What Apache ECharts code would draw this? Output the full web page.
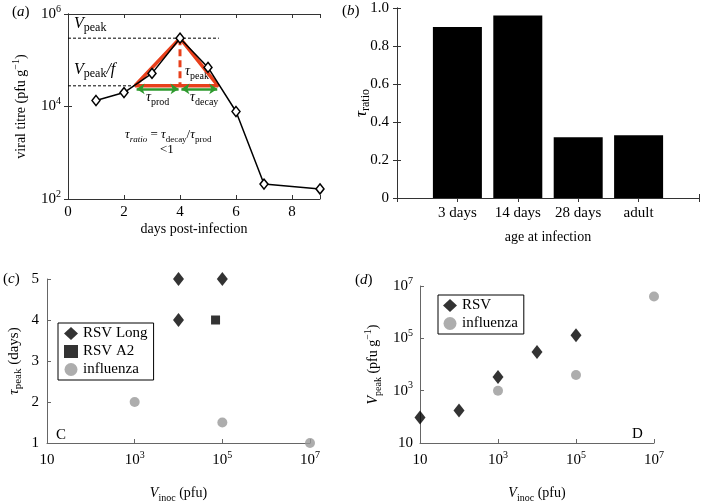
<!DOCTYPE html>
<html>
<head>
<meta charset="utf-8">
<script src="https://cdn.jsdelivr.net/npm/echarts@6/dist/echarts.min.js"></script>
<style>
html, body { margin: 0; padding: 0; background: #fff; }
#chart { width: 702px; height: 504px; }
</style>
</head>
<body>
<div id="chart"></div>
<script>
// (a) viral titre time course
const days = [1, 2, 3, 4, 5, 6, 7, 9];
const titre = [1.35e4, 2.0e4, 5.2e4, 3.0e5, 7.0e4, 7.8e3, 210, 165];
// peak construction drawn on (a)
const vPeak = 3.0e5;
const vPeakF = 2.8e4;
const triDays = [2.39, 4, 5.36];
const guideEnd = 5.39;
const arrowLevel = 2.4e4;
const arrowProd = [2.45, 3.95];
const arrowDecay = [4.05, 5.33];

// (b) tau ratio by age
const ages = ['3 days', '14 days', '28 days', 'adult'];
const tauRatio = [0.90, 0.96, 0.32, 0.33];

// (c) time to peak vs inoculum
const rsvLongInoc = [1e4, 1e5, 1e4];
const rsvLongPeak = [5, 5, 4];
const rsvA2Inoc = [7e4];
const rsvA2Peak = [4];
const fluInocC = [1e3, 1e5, 1e7];
const fluPeakC = [2, 1.5, 1];

// (d) peak titre vs inoculum
const rsvInoc = [10, 100, 1e3, 1e4, 1e5];
const rsvVPeak = [95, 175, 3300, 3e4, 1.3e5];
const fluInocD = [1e3, 1e5, 1e7];
const fluVPeak = [1000, 4000, 4e6];

const logTicksA = [1e2, 1e4, 1e6];
const logTicksInoc = [10, 1e3, 1e5, 1e7];

const F = '"Liberation Serif", serif';
const GREY = '#999999';

function R(size) {
    return {
        n: { fontFamily: F, fontSize: size, lineHeight: 20, color: '#000' },
        i: { fontFamily: F, fontSize: size, fontStyle: 'italic', lineHeight: 20, color: '#000' },
        sup: { fontFamily: F, fontSize: Math.round(size * 0.68), lineHeight: 10, verticalAlign: 'top', color: '#000' },
        sub: { fontFamily: F, fontSize: Math.round(size * 0.72), lineHeight: 10, verticalAlign: 'bottom', color: '#000' },
        subi: { fontFamily: F, fontSize: Math.round(size * 0.72), fontStyle: 'italic', lineHeight: 10, verticalAlign: 'bottom', color: '#000' }
    };
}

function pow10(v) {
    const e = Math.round(Math.log10(v));
    return e === 1 ? '{n|10}' : '{n|10}{sup|' + e + '}';
}

const zip = (xs, ys) => xs.map((x, i) => [x, ys[i]]);

function boxAxis(extra, color) {
    return Object.assign({
        splitLine: { show: false },
        axisLine: { show: true, lineStyle: { color: color, width: 1 } },
        axisTick: { show: true, inside: true, length: 4, lineStyle: { color: color } },
        axisLabel: { color: '#000', fontFamily: F, fontSize: 15, margin: 6 },
        nameTextStyle: { color: '#000', fontFamily: F, fontSize: 14 }
    }, extra);
}

function logAxis(extra, color, ticks) {
    return boxAxis(Object.assign({
        type: 'log', logBase: 10,
        axisTick: { show: true, inside: true, length: 4, lineStyle: { color: color }, customValues: ticks },
        axisLabel: { color: '#000', margin: 7, customValues: ticks, formatter: pow10, rich: R(15) }
    }, extra), color);
}

const chart = echarts.init(document.getElementById('chart'));

chart.setOption({
    animation: false,
    textStyle: { fontFamily: F },
    grid: [
        { left: 68, top: 14, width: 252, height: 185 },
        { left: 397, top: 8, width: 304, height: 190 },
        { left: 47, top: 279, width: 263, height: 173 },
        { left: 420, top: 286, width: 234, height: 167 }
    ],
    xAxis: [
        boxAxis({ gridIndex: 0, type: 'value', min: 0, max: 9, interval: 2,
            axisLabel: { color: '#000', fontFamily: F, fontSize: 15, margin: 6,
                formatter: v => (v % 2 === 0 ? String(v) : '') },
            name: 'days post-infection', nameLocation: 'middle', nameGap: 23 }, '#333'),
        boxAxis({ gridIndex: 0, type: 'value', position: 'top', min: 0, max: 9, interval: 2,
            axisLabel: { show: false } }, '#333'),
        boxAxis({ gridIndex: 1, type: 'value', min: 0, max: 5, interval: 1,
            axisLabel: { color: '#000', fontFamily: F, fontSize: 15, margin: 8,
                formatter: v => ages[v - 1] || '' },
            name: 'age at infection', nameLocation: 'middle', nameGap: 32 }, '#333'),
        boxAxis({ gridIndex: 1, type: 'value', position: 'top', min: 0, max: 5, interval: 1,
            axisLabel: { show: false } }, '#333'),
        logAxis({ gridIndex: 2, min: 10, max: 1e7,
            name: '{i|V}{sub|inoc}{n| (pfu)}', nameLocation: 'middle', nameGap: 40,
            nameTextStyle: { rich: R(14) } }, '#666', logTicksInoc),
        logAxis({ gridIndex: 3, min: 10, max: 1e7,
            name: '{i|V}{sub|inoc}{n| (pfu)}', nameLocation: 'middle', nameGap: 40,
            nameTextStyle: { rich: R(14) } }, '#666', logTicksInoc)
    ],
    yAxis: [
        logAxis({ gridIndex: 0, min: 1e2, max: 1e6,
            name: '{n|viral titre (pfu g}{sup|−1}{n|)}', nameLocation: 'middle', nameGap: 37,
            nameTextStyle: { rich: R(14) } }, '#333', logTicksA),
        logAxis({ gridIndex: 0, min: 1e2, max: 1e6, position: 'right',
            axisLabel: { show: false } }, '#333', logTicksA),
        boxAxis({ gridIndex: 1, type: 'value', min: 0, max: 1, interval: 0.2,
            axisLabel: { color: '#000', fontFamily: F, fontSize: 15, margin: 8,
                formatter: v => v === 0 ? '0' : v.toFixed(1) },
            name: '{i|τ}{sub|ratio}', nameLocation: 'middle', nameGap: 25, nameMoveOverlap: false,
            nameTextStyle: { rich: R(17) } }, '#333'),
        boxAxis({ gridIndex: 1, type: 'value', min: 0, max: 1, interval: 0.2, position: 'right',
            axisLabel: { show: false } }, '#333'),
        boxAxis({ gridIndex: 2, type: 'value', min: 1, max: 5, interval: 1,
            axisLabel: { color: '#000', fontFamily: F, fontSize: 15, margin: 8 },
            name: '{i|τ}{sub|peak}{n| (days)}', nameLocation: 'middle', nameGap: 23,
            nameTextStyle: { rich: R(15) } }, '#666'),
        logAxis({ gridIndex: 3, min: 10, max: 1e7,
            name: '{i|V}{sub|peak}{n| (pfu g}{sup|−1}{n|)}', nameLocation: 'middle', nameGap: 37,
            nameTextStyle: { rich: R(14) } }, '#666', logTicksInoc)
    ],
    legend: [
        { data: ['RSV Long', 'RSV A2', 'influenza'], orient: 'vertical', left: 58, top: 323,
            borderColor: '#000', borderWidth: 1, padding: [3, 6, 3, 6], itemGap: 3,
            itemWidth: 14, itemHeight: 13, textStyle: { fontFamily: F, fontSize: 15, color: '#000' },
            selectedMode: false },
        { data: ['RSV', 'influenza'], orient: 'vertical', left: 438, top: 295,
            borderColor: '#000', borderWidth: 1, padding: [3, 6, 3, 5], itemGap: 3,
            itemWidth: 14, itemHeight: 13, textStyle: { fontFamily: F, fontSize: 15, color: '#000' },
            selectedMode: false }
    ],
    series: [
        // (a) guides
        { type: 'line', xAxisIndex: 0, yAxisIndex: 0, symbol: 'none', silent: true,
            data: [[0, vPeak], [guideEnd, vPeak]], lineStyle: { color: '#000', width: 1, type: [3, 2] } },
        { type: 'line', xAxisIndex: 0, yAxisIndex: 0, symbol: 'none', silent: true,
            data: [[0, vPeakF], [guideEnd, vPeakF]], lineStyle: { color: '#000', width: 1, type: [3, 2] } },
        // (a) red triangle
        { type: 'line', xAxisIndex: 0, yAxisIndex: 0, symbol: 'none', silent: true, z: 3,
            data: [[triDays[0], vPeakF], [triDays[1], vPeak], [triDays[2], vPeakF], [triDays[0], vPeakF]],
            lineStyle: { color: '#e8401c', width: 3.5 } },
        { type: 'line', xAxisIndex: 0, yAxisIndex: 0, symbol: 'none', silent: true, z: 3,
            data: [[triDays[1], vPeak], [triDays[1], vPeakF]],
            lineStyle: { color: '#e8401c', width: 3, type: [7, 4] } },
        // (a) green arrows
        { type: 'lines', coordinateSystem: 'cartesian2d', xAxisIndex: 0, yAxisIndex: 0, z: 4,
            symbol: ['arrow', 'arrow'], symbolSize: 8,
            lineStyle: { color: '#2e9a2e', width: 2.5, opacity: 1 },
            data: [
                { coords: [[arrowProd[0], arrowLevel], [arrowProd[1], arrowLevel]] },
                { coords: [[arrowDecay[0], arrowLevel], [arrowDecay[1], arrowLevel]] }
            ] },
        // (a) data
        { type: 'line', xAxisIndex: 0, yAxisIndex: 0, z: 5, data: zip(days, titre),
            symbol: 'diamond', symbolSize: [8, 10], showAllSymbol: true,
            itemStyle: { color: '#fff', borderColor: '#000', borderWidth: 1.5 },
            lineStyle: { color: '#000', width: 1.5 } },
        // (b)
        { type: 'bar', xAxisIndex: 2, yAxisIndex: 2, barWidth: 49,
            data: zip(ages.map((a, i) => i + 1), tauRatio), itemStyle: { color: '#000' } },
        // (c)
        { name: 'RSV Long', type: 'scatter', xAxisIndex: 4, yAxisIndex: 4, symbol: 'diamond',
            symbolSize: [11, 14], data: zip(rsvLongInoc, rsvLongPeak), itemStyle: { color: '#000' } },
        { name: 'RSV A2', type: 'scatter', xAxisIndex: 4, yAxisIndex: 4, symbol: 'rect',
            symbolSize: 9, data: zip(rsvA2Inoc, rsvA2Peak), itemStyle: { color: '#000' } },
        { name: 'influenza', type: 'scatter', xAxisIndex: 4, yAxisIndex: 4, symbol: 'circle',
            symbolSize: 10, data: zip(fluInocC, fluPeakC), itemStyle: { color: GREY } },
        // (d)
        { name: 'RSV', type: 'scatter', xAxisIndex: 5, yAxisIndex: 5, symbol: 'diamond',
            symbolSize: [11, 14], data: zip(rsvInoc, rsvVPeak), itemStyle: { color: '#000' } },
        { name: 'influenza', type: 'scatter', xAxisIndex: 5, yAxisIndex: 5, symbol: 'circle',
            symbolSize: 10, data: zip(fluInocD, fluVPeak), itemStyle: { color: GREY } }
    ],
    graphic: [
        { type: 'text', left: 12, top: 5, style: { text: '{n|(}{i|a}{n|)}', rich: R(15) } },
        { type: 'text', left: 342, top: 4, style: { text: '{n|(}{i|b}{n|)}', rich: R(15) } },
        { type: 'text', left: 3, top: 272, style: { text: '{n|(}{i|c}{n|)}', rich: R(15) } },
        { type: 'text', left: 355, top: 273, style: { text: '{n|(}{i|d}{n|)}', rich: R(15) } },
        { type: 'text', left: 74, top: 16, style: { text: '{i|V}{sub|peak}', rich: R(16) } },
        { type: 'text', left: 74, top: 62, style: { text: '{i|V}{sub|peak}{i|/f}', rich: R(16) } },
        { type: 'text', left: 185, top: 64, style: { text: '{i|τ}{sub|peak}', rich: R(14) } },
        { type: 'text', left: 146, top: 90, style: { text: '{i|τ}{sub|prod}', rich: R(14) } },
        { type: 'text', left: 190, top: 90, style: { text: '{i|τ}{sub|decay}', rich: R(14) } },
        { type: 'text', left: 125, top: 128, style: {
            text: '{i|τ}{subi|ratio}{n| = }{i|τ}{sub|decay}{n|/}{i|τ}{sub|prod}', rich: R(13) } },
        { type: 'text', left: 160, top: 143, style: { text: '{n|<1}', rich: R(13) } },
        { type: 'text', left: 56, top: 428, style: { text: '{n|C}', rich: R(15) } },
        { type: 'text', left: 632, top: 427, style: { text: '{n|D}', rich: R(15) } }
    ]
});
</script>
</body>
</html>
